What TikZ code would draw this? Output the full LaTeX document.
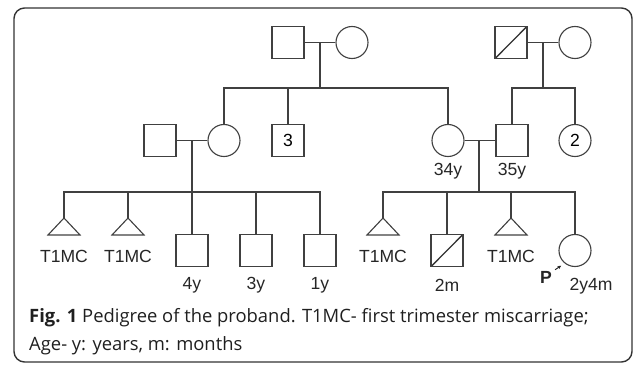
\documentclass[tikz,border=0pt]{standalone}
\usepackage{fontspec}
\setmainfont{Liberation Sans}
\newfontfamily\capfont{Open Sans}
\usepackage{tikz}
\usetikzlibrary{arrows.meta, positioning, calc}

\begin{document}
\begin{tikzpicture}[x=0.03cm,y=-0.03cm]
\tikzset{
  ln/.style={line width=0.95pt,draw=black!75},
  male/.style={rectangle,ln,minimum width=0.96cm,minimum height=0.97cm,inner sep=0pt,font=\fontsize{15}{17}\selectfont},
  female/.style={circle,ln,minimum size=0.96cm,inner sep=0pt,font=\fontsize{15}{17}\selectfont},
  dead/.style={path picture={\draw[line width=1.1pt,black!80] (path picture bounding box.south west) -- (path picture bounding box.north east);}},
  lbl/.style={font=\fontsize{15}{17}\selectfont,text=black!85,inner sep=0pt},
  capline/.style={font=\capfont\fontsize{15.7}{18}\selectfont,text=black!88,anchor=west,inner sep=0pt}
}
\useasboundingbox (0,0) rectangle (633,365);
\draw[line width=1.2pt,draw=black!80,rounded corners=9] (14,8) rectangle (632,362);
% generation I
\node[male] (gpa) at (288,42.5) {};
\node[female] (gma) at (352,42.5) {};
\node[male,dead] (hgpa) at (511,42.5) {};
\node[female] (hgma) at (575,42.5) {};
\coordinate (m1) at (320,42.5);
\coordinate (s1) at (320,88);
\coordinate (m2) at (543,42.5);
\coordinate (s2) at (543,88);
% generation II
\node[male] (unc) at (160,140.5) {};
\node[female] (aunt) at (224,140.5) {};
\node[male] (bro) at (288,140.5) {3};
\node[female] (mom) at (448,140.5) {};
\node[male] (dad) at (512,140.5) {};
\node[female] (sis) at (575,140.5) {2};
\node[lbl] (mage) at (448,171) {34y};
\node[lbl] (dage) at (512,171) {35y};
\coordinate (m3) at (192,140.5);
\coordinate (s3) at (192,192);
\coordinate (m4) at (479,140.5);
\coordinate (s4) at (479,192);
% generation III
\coordinate (t1) at (64,218);
\coordinate (t2) at (128,218);
\node[male] (c1) at (192,250.5) {};
\node[male] (c2) at (256,250.5) {};
\node[male] (c3) at (320,250.5) {};
\coordinate (t3) at (383,218);
\node[male,dead] (c4) at (447,250.5) {};
\coordinate (t4) at (511,218);
\node[female] (pro) at (575,250.5) {};
\foreach \t in {t1,t2,t3,t4}
  \draw[ln] (\t) -- ++(-16,17) -- ++(32,0) -- cycle;
\node[lbl] (l1) at (64,256) {T1MC};
\node[lbl] (l2) at (128,256) {T1MC};
\node[lbl] (l3) at (383,256) {T1MC};
\node[lbl] (l4) at (511,256) {T1MC};
\node[lbl] (a1) at (192,285) {4y};
\node[lbl] (a2) at (256,285) {3y};
\node[lbl] (a3) at (320,285) {1y};
\node[lbl] (a4) at (447,285) {2m};
\node[lbl] (a5) at (591,286) {2y4m};
\node[lbl,font=\bfseries\fontsize{15}{17}\selectfont] (pl) at (546,277) {P};
\draw[-{Stealth[length=3pt,width=3pt]},line width=0.8pt,black!85] (pl.north east) ++(3,-1) -- ++(6,-4);
% lines
\draw[ln] (gpa) -- (gma);
\draw[ln] (hgpa) -- (hgma);
\draw[ln] (unc) -- (aunt);
\draw[ln] (mom) -- (dad);
\draw[ln] (m1) -- (s1);
\draw[ln] (m2) -- (s2);
\draw[ln] (m3) -- (s3);
\draw[ln] (m4) -- (s4);
\draw[ln] (aunt.north) |- (s1) -| (mom.north);
\draw[ln] (bro.north) -- (bro |- s1);
\draw[ln] (dad.north) |- (s2) -| (sis.north);
\draw[ln] (t1) |- (s3) -| (c3.north);
\draw[ln] (t2) -- (t2 |- s3);
\draw[ln] (c1.north) -- (c1 |- s3);
\draw[ln] (c2.north) -- (c2 |- s3);
\draw[ln] (t3) |- (s4) -| (pro.north);
\draw[ln] (c4.north) -- (c4 |- s4);
\draw[ln] (t4) -- (t4 |- s4);
% caption
\node[capline] (cap1) at (29,318) {\textbf{Fig. 1} Pedigree of the proband. T1MC- first trimester miscarriage;};
\node[capline] (cap2) at (29,346) {Age- y: years, m: months};
\end{tikzpicture}
\end{document}
